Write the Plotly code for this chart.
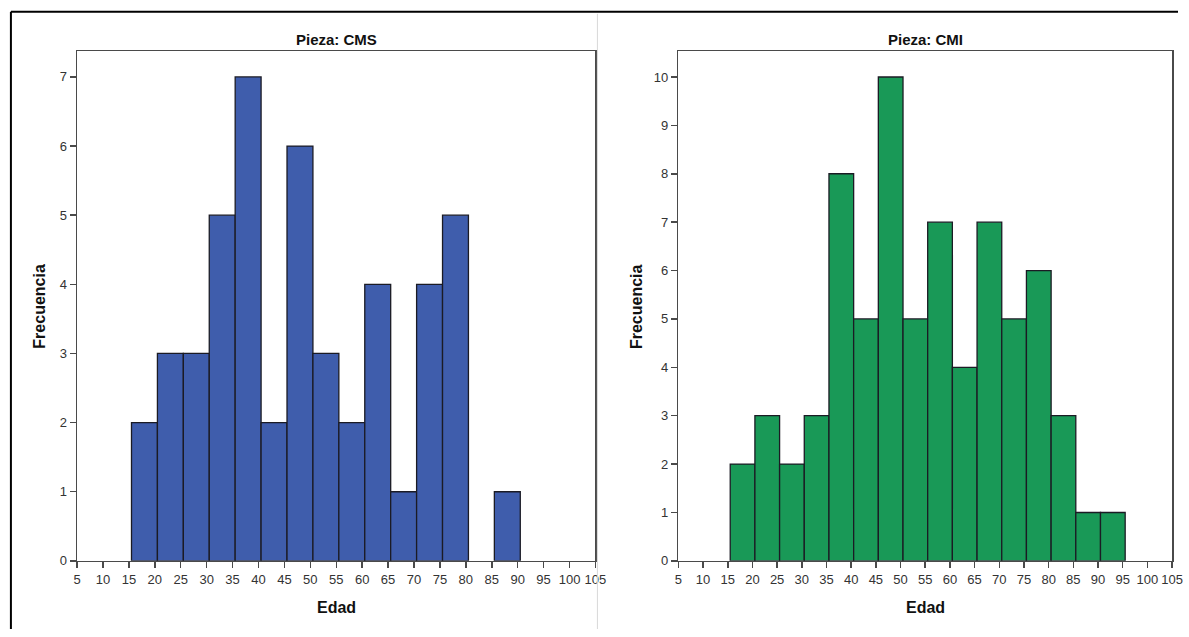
import plotly.graph_objects as go

W, H = 1189, 637

# Data
bin_starts = [15.5, 20.5, 25.5, 30.5, 35.5, 40.5, 45.5, 50.5, 55.5, 60.5, 65.5, 70.5, 75.5, 80.5, 85.5, 90.5]
bin_width = 5
cms_counts = [2, 3, 3, 5, 7, 2, 6, 3, 2, 4, 1, 4, 5, 0, 1, 0]
cmi_counts = [2, 3, 2, 3, 8, 5, 10, 5, 7, 4, 7, 5, 6, 3, 1, 1]
x_ticks = list(range(5, 106, 5))
cms_yticks = list(range(0, 8))
cmi_yticks = list(range(0, 11))
titles = ["Pieza: CMS", "Pieza: CMI"]

FONT = "Liberation Sans Narrow, Arial Narrow, Liberation Sans, Arial"
BOLD = "Liberation Sans, Arial"
BLUE = "#3F5DAC"
GREEN = "#199957"
EDGE = "#1b1b24"
AXC = "#4a4a4a"

def px(x):
    return x / W

def py(y):
    return 1 - y / H

def nonzero(counts):
    xs, ys = [], []
    for s, c in zip(bin_starts, counts):
        if c > 0:
            xs.append(s + bin_width / 2)
            ys.append(c)
    return xs, ys

fig = go.Figure()
for counts, color, xa, ya in [(cms_counts, BLUE, "x", "y"), (cmi_counts, GREEN, "x2", "y2")]:
    xs, ys = nonzero(counts)
    fig.add_trace(go.Bar(x=xs, y=ys, width=[bin_width] * len(xs),
                         marker=dict(color=color, line=dict(color=EDGE, width=1.3)),
                         xaxis=xa, yaxis=ya, showlegend=False, hoverinfo="skip"))

ydom = [py(568), py(52)]
xdom1 = [px(74), px(599)]
xdom2 = [px(683), px(1183)]

def xax(dom, anchor):
    return dict(domain=dom, anchor=anchor, range=[5, 105], tickmode="array",
                tickvals=x_ticks, ticktext=[str(t) for t in x_ticks],
                showline=True, mirror=True, linecolor=AXC, linewidth=1.5,
                ticks="outside", ticklen=6, tickcolor=AXC, tickwidth=1.5,
                showgrid=False, zeroline=False,
                tickfont=dict(family=FONT, size=13, color="#333"))

def yax(ticks, top, anchor):
    return dict(domain=ydom, anchor=anchor, range=[0, top], tickmode="array",
                tickvals=ticks, showline=True, mirror=True, linecolor=AXC,
                linewidth=1.5, ticks="outside", ticklen=6, tickcolor=AXC,
                tickwidth=1.5, showgrid=False, zeroline=False,
                tickfont=dict(family=FONT, size=13, color="#333"))

fig.update_layout(
    width=W, height=H, margin=dict(l=0, r=0, t=0, b=0),
    paper_bgcolor="white", plot_bgcolor="white", bargap=0,
    xaxis=xax(xdom1, "y"), yaxis=yax(cms_yticks, 7.37, "x"),
    xaxis2=xax(xdom2, "y2"), yaxis2=yax(cmi_yticks, 10.53, "x2"),
)

ann = []
for dom, t in [(xdom1, titles[0]), (xdom2, titles[1])]:
    cx = (dom[0] + dom[1]) / 2
    ann.append(dict(text="<b>" + t + "</b>", x=cx, y=py(40), xref="paper", yref="paper",
                    xanchor="center", yanchor="middle",
                    showarrow=False, font=dict(family=FONT, size=15, color="#111")))
    ann.append(dict(text="<b>Edad</b>", x=cx, y=py(615), xref="paper", yref="paper",
                    xanchor="center", yanchor="middle",
                    showarrow=False, font=dict(family=BOLD, size=16, color="#111")))
for xpos in (36, 640):
    ann.append(dict(text="<b>Frecuencia</b>", x=px(xpos), y=py(310), xref="paper", yref="paper",
                    xanchor="center", yanchor="middle",
                    showarrow=False, textangle=-90,
                    font=dict(family=BOLD, size=16, color="#111")))
fig.update_layout(annotations=ann)

shapes = [
    dict(type="line", xref="paper", yref="paper", x0=px(7), x1=1, y0=py(12), y1=py(12),
         line=dict(color="black", width=2)),
    dict(type="line", xref="paper", yref="paper", x0=px(7), x1=px(7), y0=py(12), y1=0,
         line=dict(color="black", width=2)),
    dict(type="line", xref="paper", yref="paper", x0=px(601), x1=px(601), y0=py(14), y1=0,
         line=dict(color="#d8d8d8", width=1)),
]
fig.update_layout(shapes=shapes)

fig.write_html("out.html",
               config={"displayModeBar": False, "staticPlot": True},
               post_script="document.documentElement.style.margin='0';document.body.style.margin='0';"
                           "document.documentElement.style.overflow='hidden';document.body.style.overflow='hidden';")
